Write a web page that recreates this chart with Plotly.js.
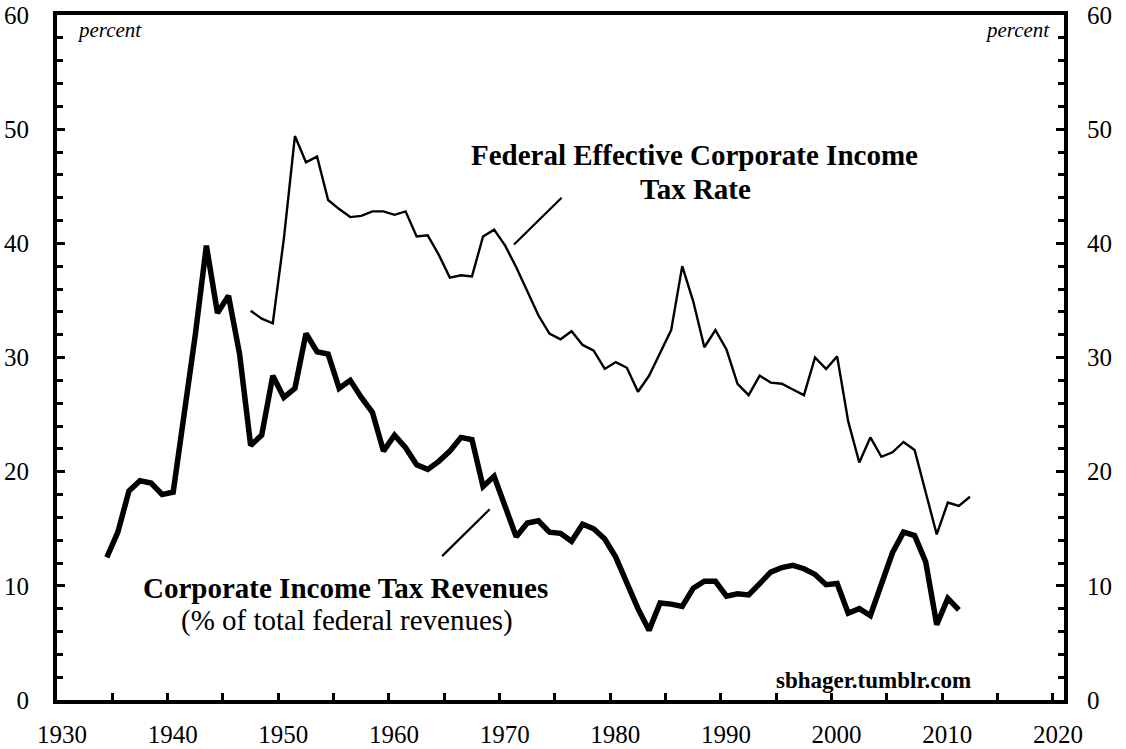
<!DOCTYPE html>
<html>
<head>
<meta charset="utf-8">
<script src="https://cdn.plot.ly/plotly-3.0.1.min.js"></script>
<style>
  html, body { margin: 0; padding: 0; background: #ffffff; }
  #chart { width: 1126px; height: 749px; }
</style>
</head>
<body>
<div id="chart"></div>
<script>
// ---- Data ----
// Corporate income tax revenues, % of total federal revenues, 1934-2011
const revenueYears = [];
for (let y = 1934; y <= 2011; y++) revenueYears.push(y);
const revenueShare = [
  12.5, 14.7, 18.3, 19.2, 19.0, 18.0,
  18.2, 24.7, 32.0, 39.8, 33.9, 35.4, 30.3, 22.3, 23.2, 28.4,
  26.5, 27.3, 32.1, 30.5, 30.3, 27.3, 28.0, 26.5, 25.2, 21.8,
  23.2, 22.1, 20.6, 20.2, 20.9, 21.8, 23.0, 22.8, 18.7, 19.6,
  17.0, 14.3, 15.5, 15.7, 14.7, 14.6, 13.9, 15.4, 15.0, 14.1,
  12.5, 10.2, 8.0, 6.1, 8.5, 8.4, 8.2, 9.8, 10.4, 10.4,
  9.1, 9.3, 9.2, 10.2, 11.2, 11.6, 11.8, 11.5, 11.0, 10.1,
  10.2, 7.6, 8.0, 7.4, 10.1, 12.9, 14.7, 14.4, 12.1, 6.6,
  8.9, 7.9
];

// Federal effective corporate income tax rate, percent, 1947-2012
const rateYears = [];
for (let y = 1947; y <= 2012; y++) rateYears.push(y);
const effectiveRate = [
  34.1, 33.4, 33.0,
  40.4, 49.4, 47.1, 47.6, 43.8, 43.0, 42.3, 42.4, 42.8, 42.8,
  42.5, 42.8, 40.6, 40.7, 39.0, 37.0, 37.2, 37.1, 40.6, 41.2,
  39.8, 37.9, 35.8, 33.7, 32.1, 31.6, 32.3, 31.1, 30.6, 29.0,
  29.6, 29.1, 27.0, 28.4, 30.4, 32.4, 38.0, 34.9, 30.9, 32.4,
  30.7, 27.7, 26.7, 28.4, 27.8, 27.7, 27.2, 26.7, 30.0, 29.0,
  30.1, 24.4, 20.8, 23.0, 21.3, 21.7, 22.6, 21.9, 18.2, 14.5,
  17.3, 17.0, 17.8
];

// Annual values are drawn at mid-year on the year axis
const MID_YEAR = 0.5;

const xTickVals = [1930, 1940, 1950, 1960, 1970, 1980, 1990, 2000, 2010, 2020];
const xTickText = ['1930','1940','1950','1960','1970','1980','1990','2000','2010','2020'];
const yTickVals = [0, 10, 20, 30, 40, 50, 60];
const yTickText = ['0','10','20','30','40','50','60'];

// ---- Chart ----
const FONT = 'Liberation Serif, Times New Roman, serif';

const traces = [
  {
    x: rateYears.map(y => y + MID_YEAR),
    y: effectiveRate,
    yaxis: 'y2',
    type: 'scatter', mode: 'lines',
    line: { color: '#000000', width: 2.4 },
    hoverinfo: 'skip', showlegend: false
  },
  {
    x: revenueYears.map(y => y + MID_YEAR),
    y: revenueShare,
    type: 'scatter', mode: 'lines',
    line: { color: '#000000', width: 5.5 },
    hoverinfo: 'skip', showlegend: false
  }
];

const yCommon = {
  range: [0, 60],
  autorange: false,
  tickmode: 'array',
  tickvals: yTickVals,
  ticktext: yTickText,
  ticks: 'inside',
  ticklen: 8,
  tickwidth: 3,
  tickcolor: '#000',
  minor: { dtick: 2, ticks: 'inside', ticklen: 6, tickwidth: 3, tickcolor: '#000' },
  showgrid: false,
  zeroline: false,
  showline: true,
  linecolor: '#000',
  linewidth: 4,
  tickfont: { family: FONT, size: 25, color: '#000' },
  ticklabelshift: 0,
  ticklabeloverflow: 'allow',
  fixedrange: true
};

const layout = {
  width: 1126,
  height: 749,
  margin: { l: 57, r: 62, t: 15, b: 49, pad: 0 },
  paper_bgcolor: '#ffffff',
  plot_bgcolor: '#ffffff',
  showlegend: false,
  hovermode: false,
  xaxis: {
    range: [1930, 2021],
    autorange: false,
    tickmode: 'array',
    tickvals: xTickVals,
    ticktext: xTickText,
    ticks: 'inside',
    ticklen: 7,
    tickwidth: 3,
    tickcolor: '#000',
    minor: { dtick: 5, tick0: 1930, ticks: 'inside', ticklen: 7, tickwidth: 3, tickcolor: '#000' },
    showgrid: false,
    zeroline: false,
    showline: true,
    mirror: true,
    linecolor: '#000',
    linewidth: 4,
    tickfont: { family: FONT, size: 25, color: '#000' },
    ticklabelstandoff: 9,
    ticklabelshift: 5,
    ticklabeloverflow: 'allow',
    fixedrange: true
  },
  yaxis: Object.assign({}, yCommon, { side: 'left', ticklabelstandoff: 19 }),
  yaxis2: Object.assign({}, yCommon, { side: 'right', overlaying: 'y', anchor: 'x', ticklabelstandoff: 14 }),
  annotations: [
    { text: '<i>percent</i>', x: 1931.6, y: 58.7, xref: 'x', yref: 'y',
      xanchor: 'left', yanchor: 'middle', showarrow: false,
      font: { family: FONT, size: 21, color: '#000' } },
    { text: '<i>percent</i>', x: 2019.9, y: 58.7, xref: 'x', yref: 'y',
      xanchor: 'right', yanchor: 'middle', showarrow: false,
      font: { family: FONT, size: 21, color: '#000' } },
    { text: '<b>Federal Effective Corporate Income</b>', x: 1987.6, y: 47.7, xref: 'x', yref: 'y',
      xanchor: 'center', yanchor: 'middle', showarrow: false,
      font: { family: FONT, size: 29, color: '#000' } },
    { text: '<b>Tax Rate</b>', x: 1987.7, y: 44.8, xref: 'x', yref: 'y',
      xanchor: 'center', yanchor: 'middle', showarrow: false,
      font: { family: FONT, size: 29, color: '#000' } },
    { text: '<b>Corporate Income Tax Revenues</b>', x: 1956.1, y: 9.8, xref: 'x', yref: 'y',
      xanchor: 'center', yanchor: 'middle', showarrow: false,
      font: { family: FONT, size: 29, color: '#000' } },
    { text: '(% of total federal revenues)', x: 1956.2, y: 7.0, xref: 'x', yref: 'y',
      xanchor: 'center', yanchor: 'middle', showarrow: false,
      font: { family: FONT, size: 29, color: '#000' } },
    { text: '<b>sbhager.tumblr.com</b>', x: 2003.8, y: 1.7, xref: 'x', yref: 'y',
      xanchor: 'center', yanchor: 'middle', showarrow: false,
      font: { family: FONT, size: 23, color: '#000' } }
  ],
  shapes: [
    { type: 'line', xref: 'x', yref: 'y', x0: 1971.3, y0: 39.9, x1: 1975.6, y1: 44.0,
      line: { color: '#000', width: 2.2 } },
    { type: 'line', xref: 'x', yref: 'y', x0: 1964.8, y0: 12.6, x1: 1969.1, y1: 16.7,
      line: { color: '#000', width: 2.2 } }
  ]
};

Plotly.newPlot('chart', traces, layout, { displayModeBar: false, staticPlot: true });
</script>
</body>
</html>
